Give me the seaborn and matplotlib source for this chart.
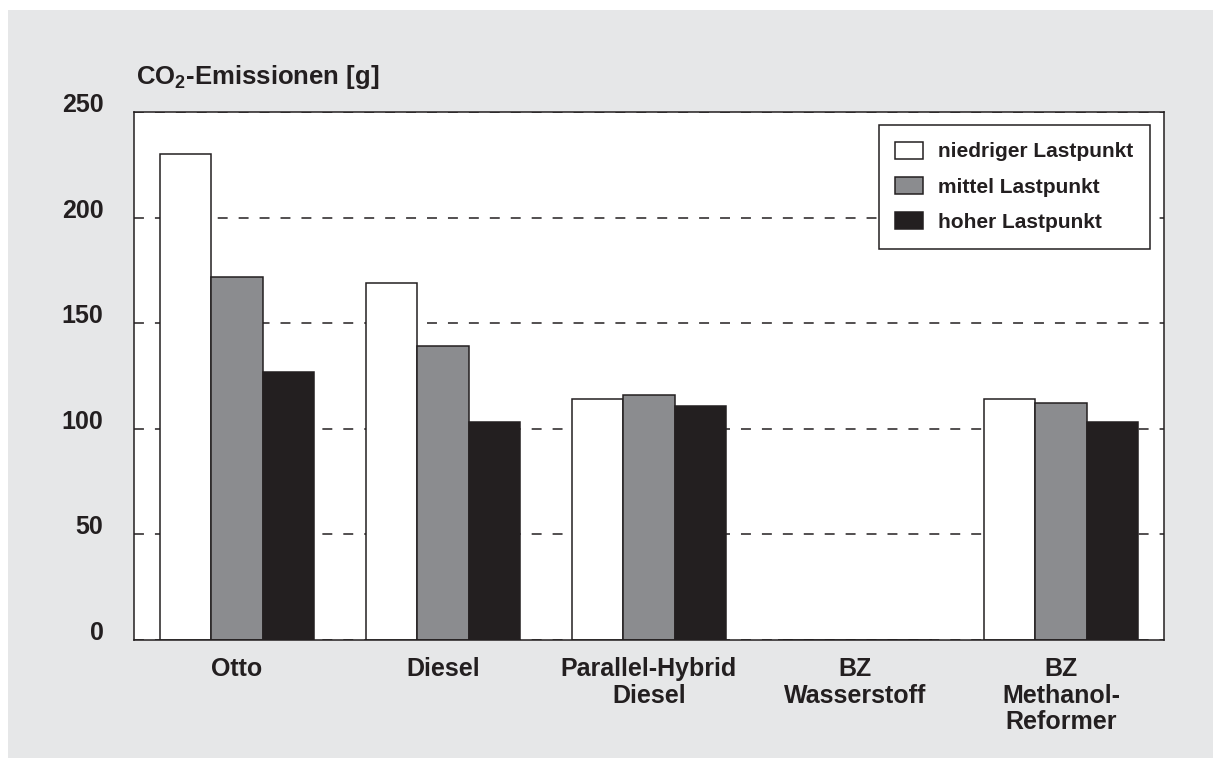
import pandas as pd
import matplotlib.pyplot as plt
import matplotlib.patches as mpatches
import seaborn as sns

# --- Data ---
CATEGORIES = ['Otto', 'Diesel', 'Parallel-Hybrid\nDiesel', 'BZ\nWasserstoff', 'BZ\nMethanol-\nReformer']
SERIES = ['niedriger Lastpunkt', 'mittel Lastpunkt', 'hoher Lastpunkt']
NIEDRIG = [230, 169, 114, 0, 114]
MITTEL = [172, 139, 116, 0, 112]
HOCH = [127, 103, 111, 0, 103]
Y_TICKS = [0, 50, 100, 150, 200, 250]

# --- Style ---
BG = '#e6e7e8'
INK = '#231f20'
COLORS = ['#ffffff', '#8b8c8f', INK]

sns.set_style('white')
plt.rcParams['font.family'] = ['Liberation Sans', 'DejaVu Sans']
plt.rcParams['font.weight'] = 'bold'
plt.rcParams['mathtext.fontset'] = 'custom'
plt.rcParams['mathtext.rm'] = 'Liberation Sans:bold'
plt.rcParams['mathtext.default'] = 'rm'

rows = []
for series, values in zip(SERIES, [NIEDRIG, MITTEL, HOCH]):
    for cat, v in zip(CATEGORIES, values):
        rows.append({'cat': cat, 'value': v, 'series': series})
df = pd.DataFrame(rows)

fig = plt.figure(figsize=(12.13, 7.58), dpi=100)
fig.patch.set_facecolor('white')
fig.patches.append(mpatches.Rectangle((8 / 1213, 0), 1, 1 - 10 / 758, transform=fig.transFigure,
                                      facecolor=BG, edgecolor='none', zorder=-10))

ax = fig.add_axes([134 / 1213, 1 - 640 / 758, 1030 / 1213, 528 / 758])
ax.set_facecolor('white')

sns.barplot(data=df, x='cat', y='value', hue='series', order=CATEGORIES, hue_order=SERIES,
            palette=COLORS, width=0.75, edgecolor=INK, linewidth=1.1, saturation=1, ax=ax)

ax.set_xlim(-0.5, len(CATEGORIES) - 0.5)
ax.set_ylim(0, 250)
ax.set_yticks(Y_TICKS)
ax.set_xlabel('')
ax.set_ylabel('')

# dashed grid
ax.set_axisbelow(True)
ax.yaxis.grid(True, color=INK, linewidth=1.1, linestyle=(0, (6.5, 7.2)))

for s in ax.spines.values():
    s.set_visible(True)
    s.set_color(INK)
    s.set_linewidth(1.1)

ax.tick_params(axis='y', length=0, pad=22, labelsize=18, labelcolor=INK)
ax.tick_params(axis='x', length=0, pad=12, labelsize=18, labelcolor=INK)
for lab in ax.get_yticklabels():
    lab.set_verticalalignment('baseline')
    lab.set_fontweight('bold')
for lab in ax.get_xticklabels():
    lab.set_linespacing(1.15)
    lab.set_fontweight('bold')

handles, labels = ax.get_legend_handles_labels()
leg = ax.legend(handles, labels, loc='upper right', bbox_to_anchor=(0.9864, 0.9754),
                borderaxespad=0, fontsize=15, frameon=True, fancybox=False, framealpha=1,
                edgecolor=INK, handlelength=1.35, handleheight=0.87, handletextpad=0.7,
                labelspacing=0.75, borderpad=0.8)
leg.get_frame().set_linewidth(1.1)
for t in leg.get_texts():
    t.set_color(INK)
    t.set_fontweight('bold')

fig.text(136 / 1213, 1 - 84 / 758, 'CO$_2$-Emissionen [g]', fontsize=18.5, fontweight='bold',
         color=INK, ha='left', va='baseline')

fig.savefig('out.png', dpi=100, facecolor=fig.get_facecolor())
